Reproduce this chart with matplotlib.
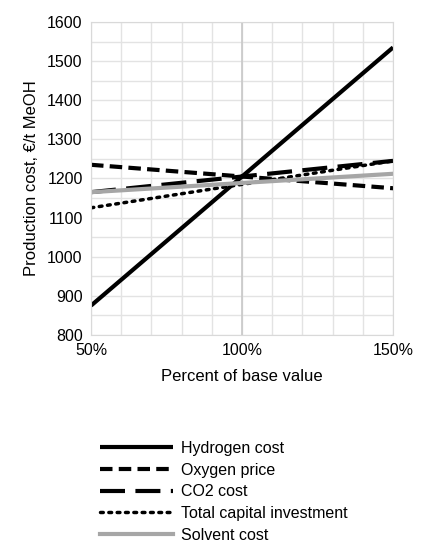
import matplotlib
matplotlib.use("Agg")
import matplotlib.pyplot as plt
from matplotlib.ticker import MultipleLocator, FuncFormatter

x = [50, 150]
hydrogen = [875, 1535]
oxygen = [1235, 1175]
co2 = [1165, 1245]
capital = [1125, 1245]
solvent = [1165, 1212]
labels = ["Hydrogen cost", "Oxygen price", "CO2 cost", "Total capital investment", "Solvent cost"]

plt.rcParams['font.family'] = ['Liberation Sans', 'DejaVu Sans']
fig = plt.figure(figsize=(4.34, 5.5), dpi=100)
ax = fig.add_axes([0.2097, 0.391, 0.696, 0.569])
ax.set_xlim(50, 150); ax.set_ylim(800, 1600)
ax.xaxis.set_major_locator(MultipleLocator(50))
ax.xaxis.set_minor_locator(MultipleLocator(10))
ax.yaxis.set_major_locator(MultipleLocator(100))
ax.yaxis.set_minor_locator(MultipleLocator(50))
ax.grid(which='both', color='#e3e3e3', lw=1)
ax.axvline(100, color='#c8c8c8', lw=1.2, zorder=1)
ax.set_axisbelow(True)
for s in ax.spines.values():
    s.set_color('#d9d9d9')
ax.tick_params(which='both', length=0, labelsize=11.5, pad=6)
ax.xaxis.set_major_formatter(FuncFormatter(lambda v, p: f"{int(v)}%"))

h = []
h += ax.plot(x, hydrogen, color='black', lw=3, solid_capstyle='butt')
h += ax.plot(x, oxygen, color='black', lw=3, dashes=(3, 1.5))
h += ax.plot(x, co2, color='black', lw=3, dashes=(6, 2.5))
h += ax.plot(x, capital, color='black', lw=2.5, dashes=(0.8, 1.6), dash_capstyle='round')
h += ax.plot(x, solvent, color='#a6a6a6', lw=3)

ax.set_xlabel("Percent of base value", fontsize=12, labelpad=8)
ax.set_ylabel("Production cost, €/t MeOH", fontsize=12, labelpad=6)

fig.legend(h, labels, loc='upper left', bbox_to_anchor=(0.215, 0.21), frameon=False,
           fontsize=11.5, handlelength=4.6, handletextpad=0.5, labelspacing=0.42, borderaxespad=0)
fig.savefig("out.png", dpi=100)
